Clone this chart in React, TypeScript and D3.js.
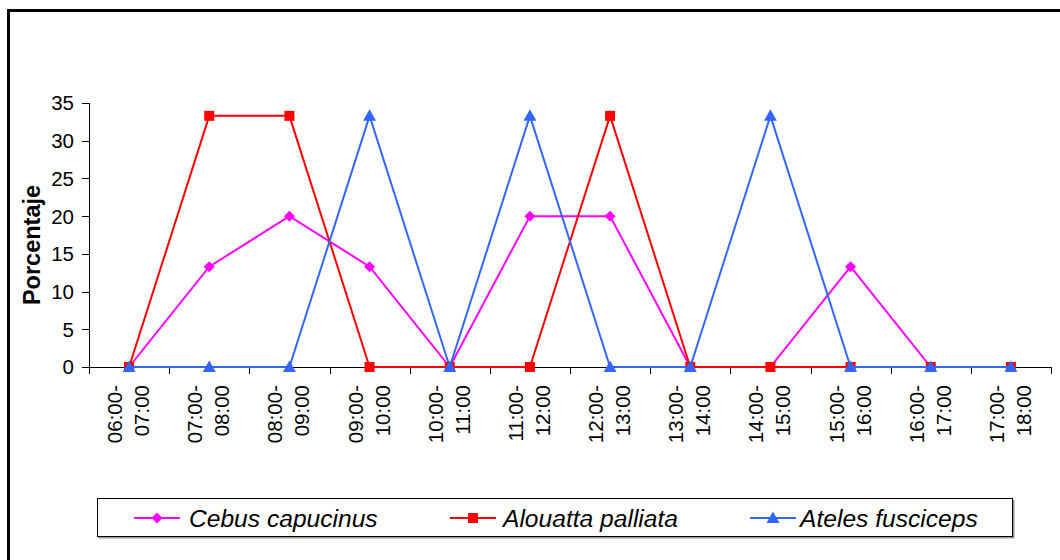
import React from "react";
import * as d3 from "d3";

const categories = [
  "06:00-07:00", "07:00-08:00", "08:00-09:00", "09:00-10:00", "10:00-11:00", "11:00-12:00",
  "12:00-13:00", "13:00-14:00", "14:00-15:00", "15:00-16:00", "16:00-17:00", "17:00-18:00",
];
const cebusValues = [0, 13.3, 20, 13.3, 0, 20, 20, 0, 0, 13.3, 0, 0];
const alouattaValues = [0, 33.3, 33.3, 0, 0, 0, 33.3, 0, 0, 0, 0, 0];
const atelesValues = [0, 0, 0, 33.3, 0, 33.3, 0, 0, 33.3, 0, 0, 0];
const seriesNames = ["Cebus capucinus", "Alouatta palliata", "Ateles fusciceps"];
const yTicks = [0, 5, 10, 15, 20, 25, 30, 35];
const yTitle = "Porcentaje";

const W = 1060, H = 560;
const PL = 89, PR = 1051, PT = 103, PB = 367;
const FONT = "'Liberation Sans', Arial, sans-serif";

type Shape = "diamond" | "square" | "triangle";
const series: { name: string; values: number[]; color: string; shape: Shape }[] = [
  { name: seriesNames[0], values: cebusValues, color: "#FF00FF", shape: "diamond" },
  { name: seriesNames[1], values: alouattaValues, color: "#FF0000", shape: "square" },
  { name: seriesNames[2], values: atelesValues, color: "#3366FF", shape: "triangle" },
];

function Marker({ shape, x, y, color }: { shape: Shape; x: number; y: number; color: string }) {
  if (shape === "diamond") {
    const r = 5.5;
    return <path d={`M${x},${y - r}L${x + r},${y}L${x},${y + r}L${x - r},${y}Z`} fill={color} />;
  }
  if (shape === "square") {
    return <rect x={x - 5} y={y - 5} width={10} height={10} fill={color} />;
  }
  return <path d={`M${x},${y - 6.5}L${x + 6.5},${y + 5}L${x - 6.5},${y + 5}Z`} fill={color} />;
}

export default function App() {
  const x = d3.scalePoint<string>().domain(categories).range([PL, PR]).padding(0.5);
  const step = x.step();
  const y = d3.scaleLinear().domain([0, 35]).range([PB, PT]);
  const line = d3.line<number>().x((_, i) => x(categories[i])!).y((d) => y(d));

  const legendItems = [
    { lx: 134, tx: 189 },
    { lx: 450, tx: 503 },
    { lx: 750, tx: 800 },
  ];
  const legendY = 518;

  return (
    <svg width={W} height={H} style={{ position: "absolute", left: 0, top: 0, background: "#fff" }}>
      <rect x={0} y={0} width={W} height={H} fill="#fff" />
      {/* outer border */}
      <rect x={8.5} y={10.5} width={W + 20} height={H + 20} fill="none" stroke="#000" strokeWidth={3} />

      {/* y axis */}
      <line x1={PL + 0.5} x2={PL + 0.5} y1={PT} y2={PB} stroke="#000" />
      {yTicks.map((t) => (
        <g key={t}>
          <line x1={PL - 7} x2={PL} y1={Math.round(y(t)) + 0.5} y2={Math.round(y(t)) + 0.5} stroke="#000" />
          <text x={74} y={y(t)} dy="0.36em" textAnchor="end" fontFamily={FONT} fontSize={20.5} fill="#000">
            {t}
          </text>
        </g>
      ))}
      <text
        transform={`translate(40,245) rotate(-90)`}
        textAnchor="middle"
        fontFamily={FONT}
        fontSize={23.5}
        fontWeight="bold"
        fill="#000"
      >
        {yTitle}
      </text>

      {/* x axis */}
      <line x1={PL} x2={PR} y1={PB + 0.5} y2={PB + 0.5} stroke="#000" />
      {d3.range(categories.length + 1).map((i) => {
        const tx = Math.round(PL + i * step) + 0.5;
        return <line key={i} x1={tx} x2={tx} y1={PB} y2={PB + 7} stroke="#000" />;
      })}
      {categories.map((c) => {
        const [a, b] = c.split("-");
        return (
          <g key={c} transform={`translate(${x(c)},385) rotate(-90)`}>
            <text x={0} y={-7} textAnchor="end" fontFamily={FONT} fontSize={20.5} fill="#000">
              {a + "-"}
            </text>
            <text x={0} y={20} textAnchor="end" fontFamily={FONT} fontSize={20.5} fill="#000">
              {b}
            </text>
          </g>
        );
      })}

      {/* series */}
      {series.map((s) => (
        <g key={s.name}>
          <path d={line(s.values)!} fill="none" stroke={s.color} strokeWidth={2} />
          {s.values.map((v, i) => (
            <Marker key={i} shape={s.shape} x={x(categories[i])!} y={y(v)} color={s.color} />
          ))}
        </g>
      ))}

      {/* legend */}
      <rect x={98.5} y={499.5} width={916} height={39} fill="#999" />
      <rect x={97.5} y={498.5} width={915} height={38} fill="#fff" stroke="#000" />
      {series.map((s, i) => (
        <g key={s.name}>
          <line x1={legendItems[i].lx} x2={legendItems[i].lx + 46} y1={legendY} y2={legendY} stroke={s.color} strokeWidth={2} />
          <Marker shape={s.shape} x={legendItems[i].lx + 23} y={legendY} color={s.color} />
          <text
            x={legendItems[i].tx}
            y={legendY}
            dy="0.36em"
            fontFamily={FONT}
            fontSize={24.6}
            fontStyle="italic"
            fill="#000"
          >
            {s.name}
          </text>
        </g>
      ))}
    </svg>
  );
}
